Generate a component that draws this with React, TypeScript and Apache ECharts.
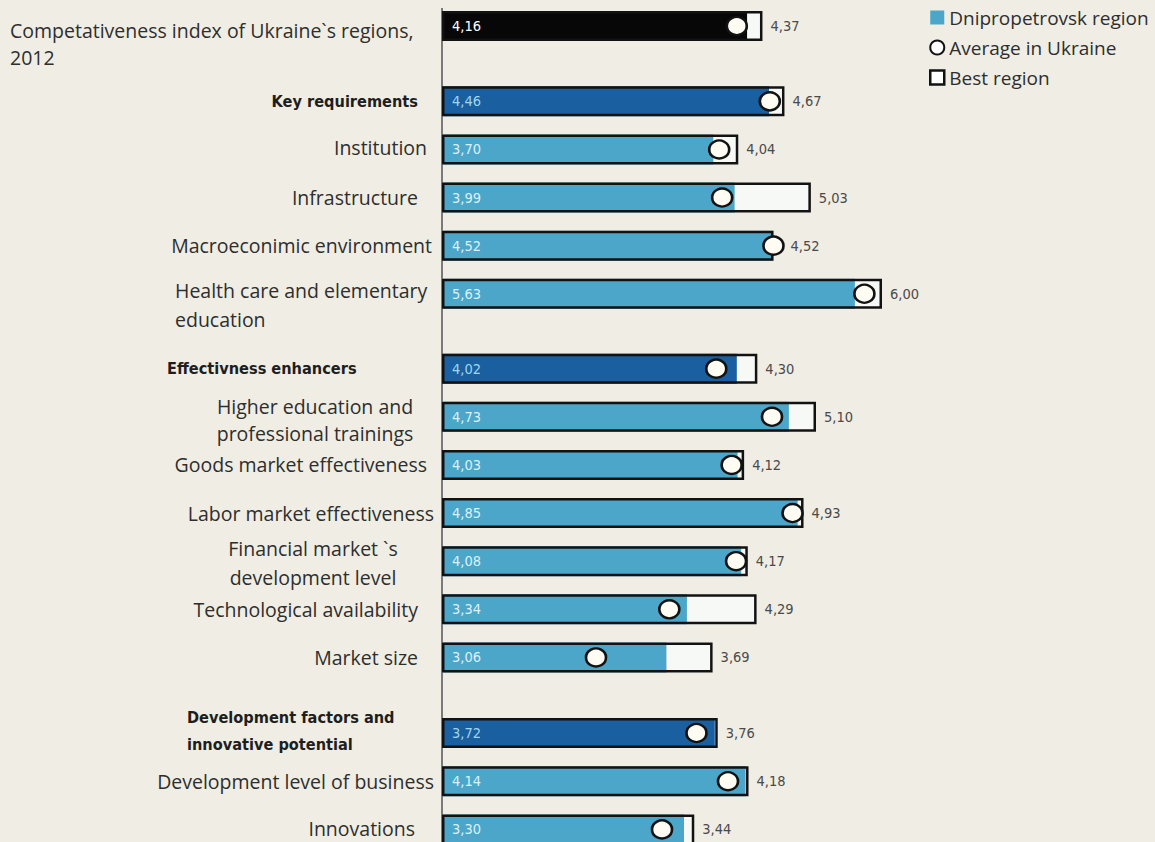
import React, { useEffect, useRef } from 'react';
import * as echarts from 'echarts';

// ---------- data ----------
const categories = [
  'Competativeness index of Ukraine`s regions,\n2012',
  'Key requirements',
  'Institution',
  'Infrastructure',
  'Macroeconimic environment',
  'Health care and elementary\neducation',
  'Effectivness enhancers',
  'Higher education and\nprofessional trainings',
  'Goods market effectiveness',
  'Labor market effectiveness',
  'Financial market `s\ndevelopment level',
  'Technological availability',
  'Market size',
  'Development factors and\ninnovative potential',
  'Development level of business',
  'Innovations',
];
const regionValues = [4.16, 4.46, 3.7, 3.99, 4.52, 5.63, 4.02, 4.73, 4.03, 4.85, 4.08, 3.34, 3.06, 3.72, 4.14, 3.3];
const averageValues = [4.02, 4.47, 3.78, 3.82, 4.52, 5.76, 3.74, 4.5, 3.95, 4.78, 4.01, 3.1, 2.1, 3.47, 3.9, 3.0];
const bestValues = [4.37, 4.67, 4.04, 5.03, 4.52, 6.0, 4.3, 5.1, 4.12, 4.93, 4.17, 4.29, 3.69, 3.76, 4.18, 3.44];
// row kind: 0 = overall index, 1 = group of factors, 2 = single factor
const rowKinds = [0, 1, 2, 2, 2, 2, 1, 2, 2, 2, 2, 2, 2, 1, 2, 2];
// sections: [first row, row after last]
const sections = [[0, 1], [1, 6], [6, 13], [13, 16]];
const seriesNames = ['Dnipropetrovsk region', 'Average in Ukraine', 'Best region'];

// ---------- layout / style ----------
const BG = '#efede4';
const KIND_COLORS = ['#070707', '#1a5f9f', '#4ba6c9'];
const KIND_INNER_TEXT = ['#ffffff', '#9fd6f0', '#dcf1f9'];
const LABEL_FONT = "'Open Sans', 'DejaVu Sans', sans-serif";
const BOLD_FONT = "'DejaVu Sans Condensed', 'Liberation Sans Narrow', sans-serif";
const NUM_FONT = "'Liberation Sans Narrow', 'DejaVu Sans Condensed', sans-serif";
const LABEL_SIZE = 19.5;
const LEGEND_SIZE = 19;
const BOLD_SIZE = 16.2;
const NUM_SIZE = 14.5;
const GRID_LEFT = 442;
const GRID_WIDTH = 660;
const X_MAX = 9;
const ANCHOR = 434;
const gridBoxes = [
  { top: 2, height: 48 },
  { top: 77.3, height: 240.5 },
  { top: 344.6, height: 336.9 },
  { top: 708.9, height: 144.6 },
];
const labelAlign = ['left', 'right', 'right', 'right', 'right', 'left', 'left', 'center', 'right', 'right', 'center', 'right', 'right', 'left', 'right', 'right'];
const labelEdge = [10, 418, 427, 418, 432, 175, 167, 315, 427, 434, 313, 418, 418, 187, 434, 415];
const labelShift = [17.5, 0, -2, 0, 0, 11, 0, 3, 0, 0, 2, 0, 0, -2, 0, -1];
const labelLineHeight = [27, 22, 22, 22, 22, 29, 22, 27, 22, 22, 29, 22, 22, 27, 22, 22];
// extra gap for best-region value labels sitting next to a circle
const bestLabelExtra = [0, 0, 0, 0, 9, 0, 0, 0, 0, 0, 0, 0, 0, 0, 0, 0];

const fmt = (v: number) => v.toFixed(2).replace('.', ',');

function richFor(i: number) {
  const bold = rowKinds[i] === 1;
  const s: any = {
    fontFamily: bold ? BOLD_FONT : LABEL_FONT,
    fontSize: bold ? BOLD_SIZE : LABEL_SIZE,
    fontWeight: bold ? 'bold' : 'normal',
    color: bold ? '#1e1e1e' : '#2e2e2e',
    lineHeight: labelLineHeight[i],
  };
  const a = labelAlign[i];
  const e = labelEdge[i];
  if (a === 'left') {
    s.width = ANCHOR - e;
    s.align = 'left';
  } else if (a === 'center') {
    s.width = 2 * (ANCHOR - e);
    s.align = 'center';
  } else {
    s.padding = [0, ANCHOR - e, 0, 0];
  }
  return s;
}

function buildOption() {
  const rich: any = {};
  categories.forEach((_, i) => {
    rich['r' + i] = richFor(i);
  });

  const grid: any[] = [];
  const xAxis: any[] = [];
  const yAxis: any[] = [];
  const series: any[] = [];

  sections.forEach(([s, e], g) => {
    const rows = categories.slice(s, e).map((_, k) => s + k);
    grid.push({
      left: GRID_LEFT,
      width: GRID_WIDTH,
      top: gridBoxes[g].top,
      height: gridBoxes[g].height,
      containLabel: false,
      outerBoundsMode: 'none',
    });
    xAxis.push({ type: 'value', gridIndex: g, min: 0, max: X_MAX, show: false });
    yAxis.push({
      type: 'category',
      gridIndex: g,
      inverse: true,
      data: rows.map((i) => {
        const sh = labelShift[i];
        return {
          value: categories[i],
          textStyle: { padding: sh >= 0 ? [2 * sh, 0, 0, 0] : [0, 0, -2 * sh, 0] },
        };
      }),
      axisLine: { show: false },
      axisTick: { show: false },
      splitLine: { show: false },
      axisLabel: {
        interval: 0,
        margin: GRID_LEFT - ANCHOR,
        formatter: (value: string, idx: number) => {
          const i = s + idx;
          return value
            .split('\n')
            .map((line) => `{r${i}|${line}}`)
            .join('\n');
        },
        rich,
      },
    });
    series.push({
      name: 'best-fill',
      type: 'bar',
      xAxisIndex: g,
      yAxisIndex: g,
      barWidth: 30,
      barGap: '-100%',
      silent: true,
      itemStyle: { color: '#f7f9f6' },
      data: rows.map((i) => bestValues[i]),
      z: 2,
    });
    series.push({
      name: seriesNames[0],
      type: 'bar',
      xAxisIndex: g,
      yAxisIndex: g,
      barWidth: 30,
      barGap: '-100%',
      itemStyle: { color: KIND_COLORS[2] },
      label: {
        show: true,
        position: 'insideLeft',
        distance: 10,
        fontFamily: NUM_FONT,
        fontSize: NUM_SIZE,
        formatter: (p: any) => fmt(p.value),
      },
      data: rows.map((i) => ({
        value: regionValues[i],
        itemStyle: { color: KIND_COLORS[rowKinds[i]] },
        label: { color: KIND_INNER_TEXT[rowKinds[i]] },
      })),
      z: 3,
    });
    series.push({
      name: seriesNames[2],
      type: 'bar',
      xAxisIndex: g,
      yAxisIndex: g,
      barWidth: 30,
      barGap: '-100%',
      itemStyle: { color: 'rgba(0,0,0,0)', borderColor: '#121212', borderWidth: 2.5 },
      label: {
        show: true,
        position: 'right',
        distance: 8,
        color: '#4a4a4a',
        fontFamily: NUM_FONT,
        fontSize: NUM_SIZE,
        formatter: (p: any) => fmt(p.value),
      },
      data: rows.map((i) => ({
        value: bestValues[i],
        label: { distance: 8 + bestLabelExtra[i] },
      })),
      z: 4,
    });
    series.push({
      name: seriesNames[1],
      type: 'scatter',
      xAxisIndex: g,
      yAxisIndex: g,
      symbol: 'circle',
      symbolSize: [20, 18],
      itemStyle: { color: '#fffdf3', borderColor: '#121212', borderWidth: 2.5, opacity: 1 },
      data: rows.map((i, k) => [averageValues[i], k]),
      z: 6,
    });
  });

  return {
    animation: false,
    backgroundColor: BG,
    grid,
    xAxis,
    yAxis,
    series,
    legend: {
      orient: 'vertical',
      left: 924,
      top: 3,
      itemWidth: 14,
      itemHeight: 14,
      itemGap: 11,
      selectedMode: false,
      textStyle: { fontFamily: LABEL_FONT, fontSize: LEGEND_SIZE, color: '#2e2e2e' },
      data: [
        { name: seriesNames[0], icon: 'rect', itemStyle: { color: KIND_COLORS[2], borderWidth: 0 } },
        { name: seriesNames[1], icon: 'circle', itemStyle: { color: '#ffffff', borderColor: '#121212', borderWidth: 2 } },
        { name: seriesNames[2], icon: 'rect', itemStyle: { color: '#ffffff', borderColor: '#121212', borderWidth: 2.5 } },
      ],
    },
    graphic: [
      {
        type: 'line',
        z: 0,
        shape: { x1: GRID_LEFT, y1: 8, x2: GRID_LEFT, y2: 842 },
        style: { stroke: '#7a7a7a', lineWidth: 2 },
      },
    ],
  };
}

export default function App() {
  const ref = useRef<HTMLDivElement>(null);
  useEffect(() => {
    document.body.style.margin = '0';
    document.body.style.background = BG;
    const chart = echarts.init(ref.current!, null, { renderer: 'svg' });
    chart.setOption(buildOption() as any);
    return () => chart.dispose();
  }, []);
  return <div ref={ref} style={{ position: 'fixed', left: 0, top: 0, width: 1155, height: 842 }} />;
}
